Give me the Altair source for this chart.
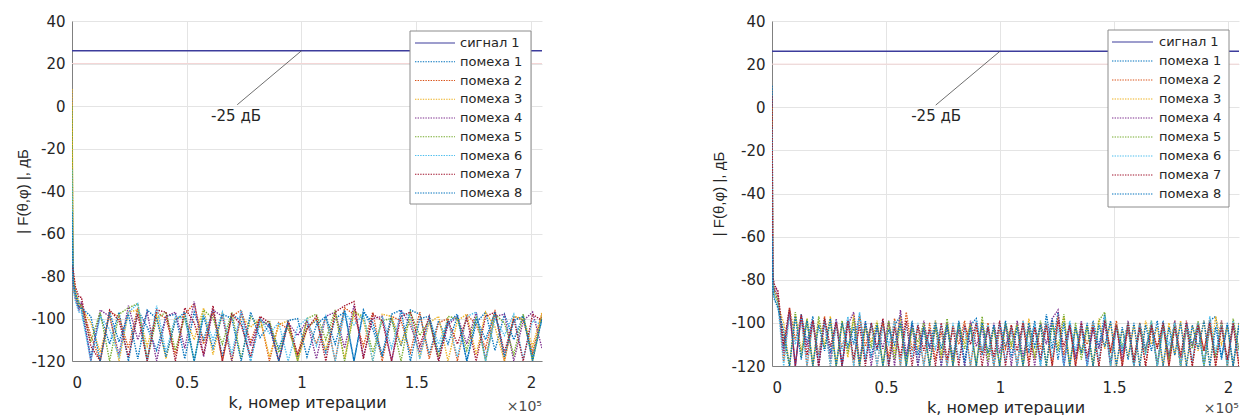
import altair as alt
import pandas as pd

SERIES = ["сигнал 1"] + [f"помеха {i}" for i in range(1, 9)]
COLORS = ["#3c3c9c", "#0072BD", "#D95319", "#EDB120", "#7E2F8E",
          "#77AC30", "#4DBEEE", "#A2142F", "#0072BD"]
DASHES = [[1, 0]] + [[1.4, 1.2]] * 8
SIGNAL_LEVEL = 26
X_MAX = 2.048  # in units of 1e5 iterations
X_TICKS = [0, 0.5, 1, 1.5, 2]
Y_TICKS = [40, 20, 0, -20, -40, -60, -80, -100, -120]

# ---------------- left panel ----------------
left_head_k = [0, 500, 1500, 3000]
left_step = 4096
left_head = [
    [-60, -82, -88, -92],
    [-10, -85, -90, -95],
    [8, -78, -86, -94],
    [-40, -84, -91, -96],
    [0, -80, -89, -93],
    [-30, -86, -92, -97],
    [-75, -77, -85, -90],
    [-50, -83, -88, -95],
]
left_noise = [
    [-96, -118, -98, -112, -97, -120, -96, -104, -115, -99,
     -98, -119, -97, -110, -96, -118, -98, -101, -120, -101,
     -103, -114, -102, -119, -104, -101, -116, -100, -97, -120,
     -96, -105, -118, -100, -113, -96, -98, -117, -101, -112,
     -99, -120, -102, -97, -115, -98, -110, -99, -118, -100],
    [-93, -108, -120, -97, -99, -114, -95, -120, -97, -100,
     -117, -98, -93, -112, -97, -120, -99, -96, -111, -99,
     -120, -102, -105, -117, -101, -112, -99, -120, -95, -98,
     -113, -97, -120, -99, -101, -116, -97, -119, -102, -100,
     -120, -98, -103, -114, -96, -120, -99, -101, -116, -98],
    [-95, -102, -116, -98, -120, -97, -96, -113, -98, -119,
     -100, -99, -110, -95, -117, -97, -120, -99, -104, -100,
     -118, -103, -101, -120, -105, -100, -115, -98, -119, -96,
     -101, -120, -98, -99, -112, -100, -118, -102, -99, -120,
     -101, -98, -117, -97, -104, -120, -99, -100, -113, -97],
    [-92, -120, -96, -99, -117, -94, -110, -97, -120, -99,
     -97, -114, -92, -118, -96, -99, -120, -97, -113, -100,
     -104, -120, -102, -108, -101, -119, -99, -97, -114, -94,
     -118, -100, -99, -120, -96, -103, -116, -100, -120, -103,
     -99, -112, -97, -119, -99, -98, -120, -101, -97, -114],
    [-94, -111, -97, -120, -98, -95, -93, -119, -100, -97,
     -115, -99, -120, -96, -100, -112, -97, -119, -99, -104,
     -101, -116, -103, -120, -100, -98, -110, -96, -120, -97,
     -99, -116, -101, -100, -120, -97, -108, -101, -118, -99,
     -100, -115, -99, -120, -98, -102, -117, -98, -120, -99],
    [-97, -120, -99, -105, -118, -97, -93, -120, -94, -116,
     -99, -100, -120, -98, -110, -97, -117, -96, -120, -100,
     -107, -102, -120, -104, -100, -113, -99, -120, -97, -103,
     -98, -120, -99, -114, -97, -99, -119, -100, -112, -101,
     -118, -99, -97, -120, -100, -108, -98, -119, -101, -103],
    [-90, -113, -120, -96, -101, -118, -98, -120, -96, -97,
     -120, -95, -102, -117, -94, -120, -98, -103, -118, -99,
     -102, -120, -101, -117, -105, -99, -120, -97, -94, -92,
     -119, -98, -101, -120, -99, -97, -113, -99, -120, -101,
     -112, -100, -120, -99, -97, -116, -100, -120, -98, -101],
    [-95, -99, -120, -97, -111, -98, -119, -96, -100, -118,
     -101, -97, -120, -99, -114, -98, -100, -120, -97, -109,
     -103, -120, -101, -100, -118, -103, -99, -112, -96, -120,
     -97, -102, -117, -98, -96, -120, -100, -99, -116, -102,
     -98, -120, -100, -110, -97, -118, -101, -99, -120, -100],
]

# ---------------- right panel ----------------
right_head_k = [0, 400, 1000, 1800]
right_step = 2560
right_head = [
    [10, -80, -84, -87],
    [-20, -82, -85, -86],
    [0, -78, -86, -89],
    [-50, -83, -85, -84],
    [-70, -81, -87, -88],
    [-10, -84, -88, -90],
    [5, -79, -82, -84],
    [-60, -85, -89, -91],
]
right_noise = [
    [-90, -112, -94, -120, -96, -109, -97, -120, -98, -114,
     -99, -120, -98, -110, -96, -118, -100, -113, -99, -120,
     -101, -97, -117, -100, -120, -103, -111, -99, -120, -102,
     -116, -100, -120, -101, -98, -115, -102, -120, -100, -111,
     -103, -120, -101, -114, -99, -120, -96, -112, -95, -120,
     -100, -117, -102, -120, -99, -111, -96, -119, -101, -114,
     -103, -120, -100, -112, -102, -120, -99, -116, -101, -120,
     -100, -110, -102, -120, -99, -97, -117, -101, -120, -100],
    [-88, -118, -93, -108, -97, -120, -99, -115, -97, -120,
     -100, -112, -99, -120, -97, -111, -101, -120, -100, -116,
     -98, -120, -95, -113, -102, -120, -100, -117, -104, -120,
     -101, -110, -99, -120, -102, -114, -100, -120, -103, -112,
     -101, -120, -99, -118, -102, -112, -100, -120, -97, -115,
     -101, -120, -103, -110, -100, -120, -98, -114, -99, -120,
     -102, -117, -100, -120, -103, -111, -101, -120, -99, -115,
     -102, -120, -100, -113, -98, -120, -99, -118, -101, -120],
    [-92, -100, -120, -96, -113, -98, -120, -99, -110, -97,
     -120, -100, -116, -96, -120, -101, -109, -99, -120, -100,
     -114, -97, -120, -101, -112, -102, -120, -99, -117, -100,
     -120, -103, -109, -100, -120, -99, -115, -102, -120, -101,
     -112, -100, -120, -98, -117, -101, -120, -99, -111, -97,
     -120, -102, -114, -101, -120, -98, -112, -100, -120, -103,
     -116, -101, -120, -99, -110, -102, -120, -100, -115, -99,
     -120, -101, -113, -99, -120, -97, -110, -102, -120, -100],
    [-86, -114, -95, -120, -97, -111, -99, -120, -100, -117,
     -98, -120, -101, -95, -118, -100, -120, -102, -112, -99,
     -120, -94, -115, -101, -120, -99, -113, -102, -120, -100,
     -117, -103, -120, -99, -111, -102, -120, -100, -114, -101,
     -120, -99, -116, -102, -120, -100, -110, -98, -94, -120,
     -101, -116, -99, -120, -102, -112, -100, -120, -101, -117,
     -99, -120, -102, -113, -100, -120, -101, -116, -99, -120,
     -103, -111, -100, -120, -102, -116, -99, -120, -101, -112],
    [-89, -107, -120, -95, -116, -98, -120, -97, -112, -100,
     -120, -99, -114, -98, -120, -102, -111, -100, -120, -99,
     -117, -101, -120, -103, -109, -100, -120, -102, -115, -98,
     -120, -100, -112, -101, -120, -97, -118, -102, -120, -100,
     -110, -101, -120, -103, -116, -99, -120, -101, -113, -96,
     -120, -100, -117, -102, -120, -99, -95, -120, -101, -111,
     -100, -120, -102, -114, -99, -120, -101, -117, -100, -120,
     -102, -112, -99, -120, -101, -116, -100, -120, -98, -113],
    [-91, -120, -96, -110, -98, -120, -100, -116, -99, -120,
     -101, -113, -97, -120, -95, -117, -100, -120, -102, -110,
     -99, -120, -101, -116, -100, -120, -103, -112, -101, -120,
     -100, -117, -102, -120, -99, -113, -101, -120, -100, -118,
     -102, -120, -99, -111, -101, -120, -100, -116, -102, -120,
     -99, -113, -101, -120, -100, -118, -97, -120, -102, -112,
     -100, -120, -101, -115, -99, -120, -103, -110, -100, -120,
     -101, -118, -100, -120, -97, -114, -101, -120, -99, -116],
    [-85, -110, -93, -120, -96, -115, -99, -120, -98, -111,
     -100, -120, -99, -117, -101, -120, -100, -112, -98, -120,
     -102, -116, -99, -120, -101, -113, -103, -120, -100, -117,
     -102, -120, -101, -110, -100, -120, -102, -116, -99, -120,
     -101, -113, -100, -120, -102, -117, -101, -120, -99, -111,
     -101, -120, -100, -116, -102, -120, -99, -113, -101, -120,
     -100, -118, -102, -120, -101, -112, -100, -120, -102, -116,
     -99, -120, -101, -113, -100, -120, -102, -117, -100, -120],
    [-93, -104, -120, -97, -117, -99, -120, -101, -113, -98,
     -120, -100, -111, -102, -120, -99, -116, -101, -120, -103,
     -110, -100, -120, -99, -115, -102, -120, -100, -112, -101,
     -120, -99, -118, -102, -120, -100, -114, -101, -120, -99,
     -116, -102, -120, -100, -111, -101, -120, -98, -117, -100,
     -120, -102, -114, -100, -120, -101, -111, -99, -120, -102,
     -117, -100, -120, -101, -113, -99, -120, -102, -115, -100,
     -120, -101, -112, -99, -120, -102, -116, -100, -120, -101],
]

# annotation "-25 дБ": leader line end (x in 1e5, dB) and label centre
left_ann = {"x": 0.72, "y": 0.6, "x2": 1.0, "y2": SIGNAL_LEVEL, "tx": 0.715, "ty": -4.6}
right_ann = {"x": 0.718, "y": 1.0, "x2": 1.0, "y2": SIGNAL_LEVEL, "tx": 0.72, "ty": -4.0}
ANN_TEXT = "-25 дБ"

# legend box layout (pixels inside each panel's plot area)
left_leg = {"bx": 338, "bx2": 459, "by": 10, "by2": 183, "row0": 22, "step": 18.75,
            "lx": 343, "lx2": 383, "tx": 388}
right_leg = {"bx": 336, "bx2": 457, "by": 9, "by2": 186, "row0": 21, "step": 19.0,
             "lx": 340, "lx2": 381, "tx": 387}


def build_df(head_k, step, heads, noise):
    rows = []
    for x in (0.0, X_MAX):
        rows.append({"series": SERIES[0], "x": x, "y": SIGNAL_LEVEL})
    for s, (hv, nv) in enumerate(zip(heads, noise)):
        ks = list(head_k) + [step * (j + 1) for j in range(len(nv))]
        vals = list(hv) + list(nv)
        for k, v in zip(ks, vals):
            rows.append({"series": SERIES[s + 1], "x": k / 1e5, "y": v})
    return pd.DataFrame(rows)


def panel(df, ann, lg, w, h, y_title_pad, x10_dy):
    xs = alt.Scale(domain=[0, X_MAX], nice=False, zero=False)
    ys = alt.Scale(domain=[-120, 40], nice=False, zero=False)
    cs = alt.Scale(domain=SERIES, range=COLORS)
    ds = alt.Scale(domain=SERIES, range=DASHES)
    x_axis = alt.Axis(values=X_TICKS, labelExpr="datum.value + ''",
                      title="k, номер итерации", titleFont="DejaVu Sans",
                      titleFontSize=16, titlePadding=4, labelPadding=14)
    y_axis = alt.Axis(values=Y_TICKS, labelExpr="datum.value + ''",
                      title="| F(θ,φ) |, дБ", titleFont="Liberation Sans",
                      titleFontSize=15, titlePadding=y_title_pad, labelPadding=7)

    pink = alt.Chart(pd.DataFrame({"y": [20]})).mark_rule(
        color="#f4d6d6", strokeWidth=1).encode(
        y=alt.Y("y:Q", scale=ys, axis=y_axis))

    lines = alt.Chart(df).mark_line(strokeWidth=1.4, clip=True).encode(
        x=alt.X("x:Q", scale=xs, axis=x_axis),
        y=alt.Y("y:Q", scale=ys, axis=y_axis),
        color=alt.Color("series:N", scale=cs, sort=SERIES, legend=None),
        strokeDash=alt.StrokeDash("series:N", scale=ds, sort=SERIES, legend=None),
        order=alt.Order("x:Q"),
    )

    adf = pd.DataFrame([ann])
    rule = alt.Chart(adf).mark_rule(color="#4a4a4a", strokeWidth=0.8).encode(
        x=alt.X("x:Q", scale=xs), y=alt.Y("y:Q", scale=ys),
        x2="x2:Q", y2="y2:Q")
    txt = alt.Chart(adf).mark_text(font="DejaVu Sans", fontSize=15,
                                   color="#262626", baseline="middle").encode(
        x=alt.X("tx:Q", scale=xs), y=alt.Y("ty:Q", scale=ys),
        text=alt.value(ANN_TEXT))
    x10 = alt.Chart(pd.DataFrame({"t": ["×10⁵"]})).mark_text(
        font="DejaVu Sans", fontSize=14, color="#4a4a4a",
        align="right", baseline="alphabetic").encode(
        x=alt.datum(X_MAX), y=alt.value(h + x10_dy), text="t:N")

    # legend drawn by hand (box, line samples, labels)
    box = alt.Chart(pd.DataFrame({"a": [0]})).mark_rect(
        fill="white", stroke="#8c8c8c", strokeWidth=1).encode(
        x=alt.value(lg["bx"]), x2=alt.value(lg["bx2"]),
        y=alt.value(lg["by"]), y2=alt.value(lg["by2"]))
    ldf = pd.DataFrame({"series": SERIES, "row": list(range(len(SERIES)))})
    ybase = alt.Chart(ldf).transform_calculate(
        ypx=f"{lg['row0']} + datum.row * {lg['step']}")
    samples = ybase.mark_rule(strokeWidth=1.1).encode(
        x=alt.value(lg["lx"]), x2=alt.value(lg["lx2"]),
        y=alt.Y("ypx:Q", scale=None),
        color=alt.Color("series:N", scale=cs, legend=None),
        strokeDash=alt.StrokeDash("series:N", scale=ds, legend=None))
    labels = ybase.mark_text(align="left", baseline="middle", font="DejaVu Sans",
                             fontSize=13, color="#262626").encode(
        x=alt.value(lg["tx"]), y=alt.Y("ypx:Q", scale=None), text="series:N")

    return alt.layer(pink, lines, rule, txt, x10, box, samples, labels).properties(
        width=w, height=h)


left_df = build_df(left_head_k, left_step, left_head, left_noise)
right_df = build_df(right_head_k, right_step, right_head, right_noise)

left = panel(left_df, left_ann, left_leg, 470, 340, 0, 50)
right = panel(right_df, right_ann, right_leg, 467, 345, 4, 47)

chart = alt.hconcat(left, right, spacing=168).properties(
    padding={"left": 15, "top": 14, "right": 0, "bottom": 0}
).configure_view(stroke=None).configure_axis(
    domainColor="#808080", gridColor="#e4e4e4", ticks=False,
    labelFont="DejaVu Sans", labelFontSize=15, labelColor="#262626",
    titleColor="#262626", titleFontWeight="normal", grid=True,
)

chart.save("out.html", embed_options={"renderer": "svg", "actions": False})
